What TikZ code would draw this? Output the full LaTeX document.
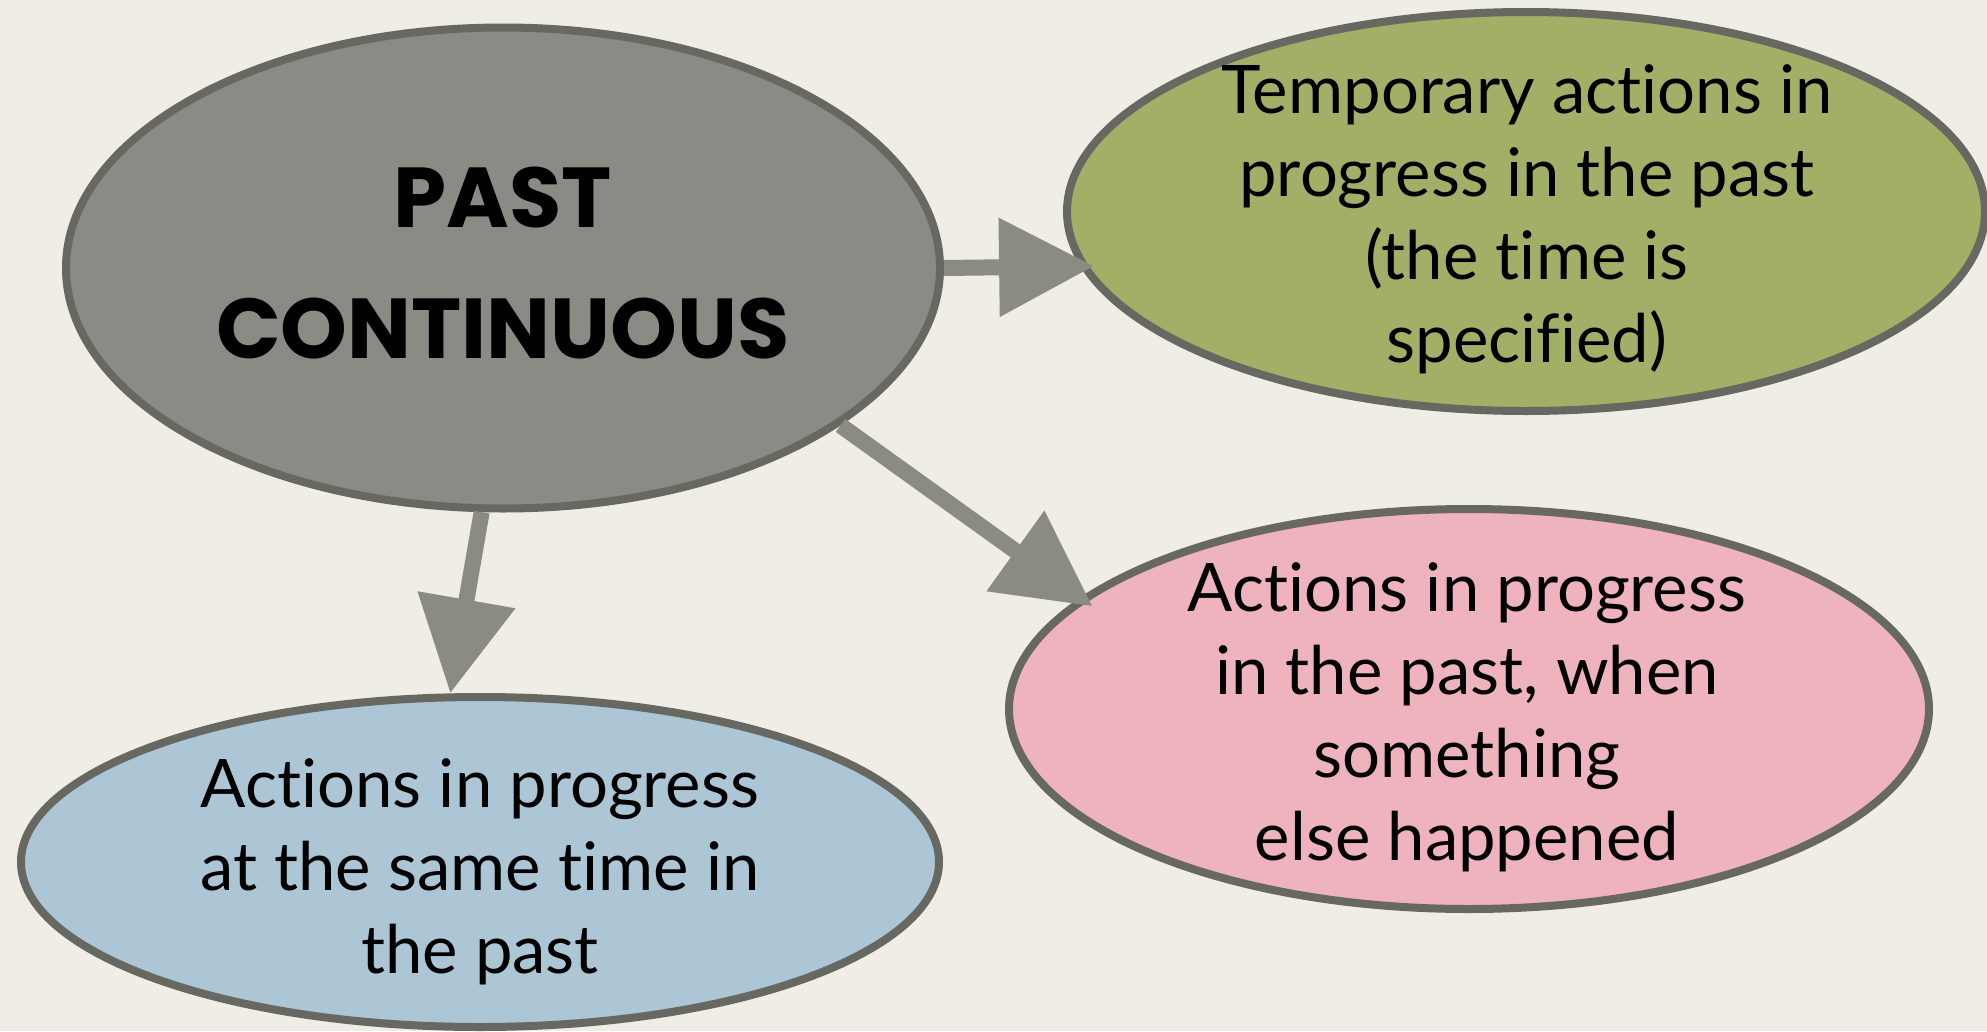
\documentclass[tikz,border=0pt]{standalone}
\usepackage{fontspec}
\setmainfont{Lato}
\newfontfamily\bodyfont{Lato}[Ligatures={NoCommon,NoDiscretionary}]
\newfontfamily\titlefont{Poppins}
\usetikzlibrary{shapes.geometric,arrows.meta}

\definecolor{bgcol}{RGB}{239,237,229}
\definecolor{edgecol}{RGB}{103,104,97}
\definecolor{greycol}{RGB}{138,139,132}
\definecolor{arrowcol}{RGB}{138,140,132}
\definecolor{greencol}{RGB}{162,175,103}
\definecolor{pinkcol}{RGB}{238,179,189}
\definecolor{bluecol}{RGB}{173,198,213}

\begin{document}
\begin{tikzpicture}[x=1pt,y=-1pt,
  bubble/.style={ellipse, draw=edgecol, line width=8pt, inner sep=0pt},
  link/.style={draw=arrowcol, line width=16pt,
    -{Triangle[length=95pt,width=95pt]}},
  bodytext/.style={font={\bodyfont\fontsize{67pt}{83pt}\selectfont},
    align=center, inner sep=0pt},
  titletext/.style={font={\titlefont\bfseries\fontsize{85pt}{131pt}\selectfont},
    align=center, inner sep=0pt}]

% canvas
\fill[bgcol] (0,0) rectangle (1987,1031);
\useasboundingbox (0,0) rectangle (1987,1031);

% bubbles
\node[bubble, fill=greycol,  minimum width=874pt, minimum height=481pt] (main)  at (503,268) {};
\node[bubble, fill=greencol, minimum width=918pt, minimum height=399pt] (green) at (1526,211.5) {};
\node[bubble, fill=pinkcol,  minimum width=920pt, minimum height=400pt] (pink)  at (1469,709) {};
\node[bubble, fill=bluecol,  minimum width=918pt, minimum height=330pt] (blue)  at (480,862) {};

% texts
\node[titletext] (maintext) at (503,263.5) {PAST\\CONTINUOUS};
\node[bodytext] (greentext) at (1527,219) {Temporary actions in\\progress in the past\\(the time is\\specified)};
\node[bodytext] (pinktext) at (1467,717) {Actions in progress\\in the past, when\\something\\else happened};
\node[bodytext] (bluetext) at (480,872) {Actions in progress\\at the same time in\\the past};

% connectors
\draw[link, shorten >=-14pt] (main.east) -- (green.187);
\draw[link, shorten >=-15pt] (main.-25) -- (pink.164);
\draw[link] (main.-95) -- (blue.100);
\end{tikzpicture}
\end{document}
